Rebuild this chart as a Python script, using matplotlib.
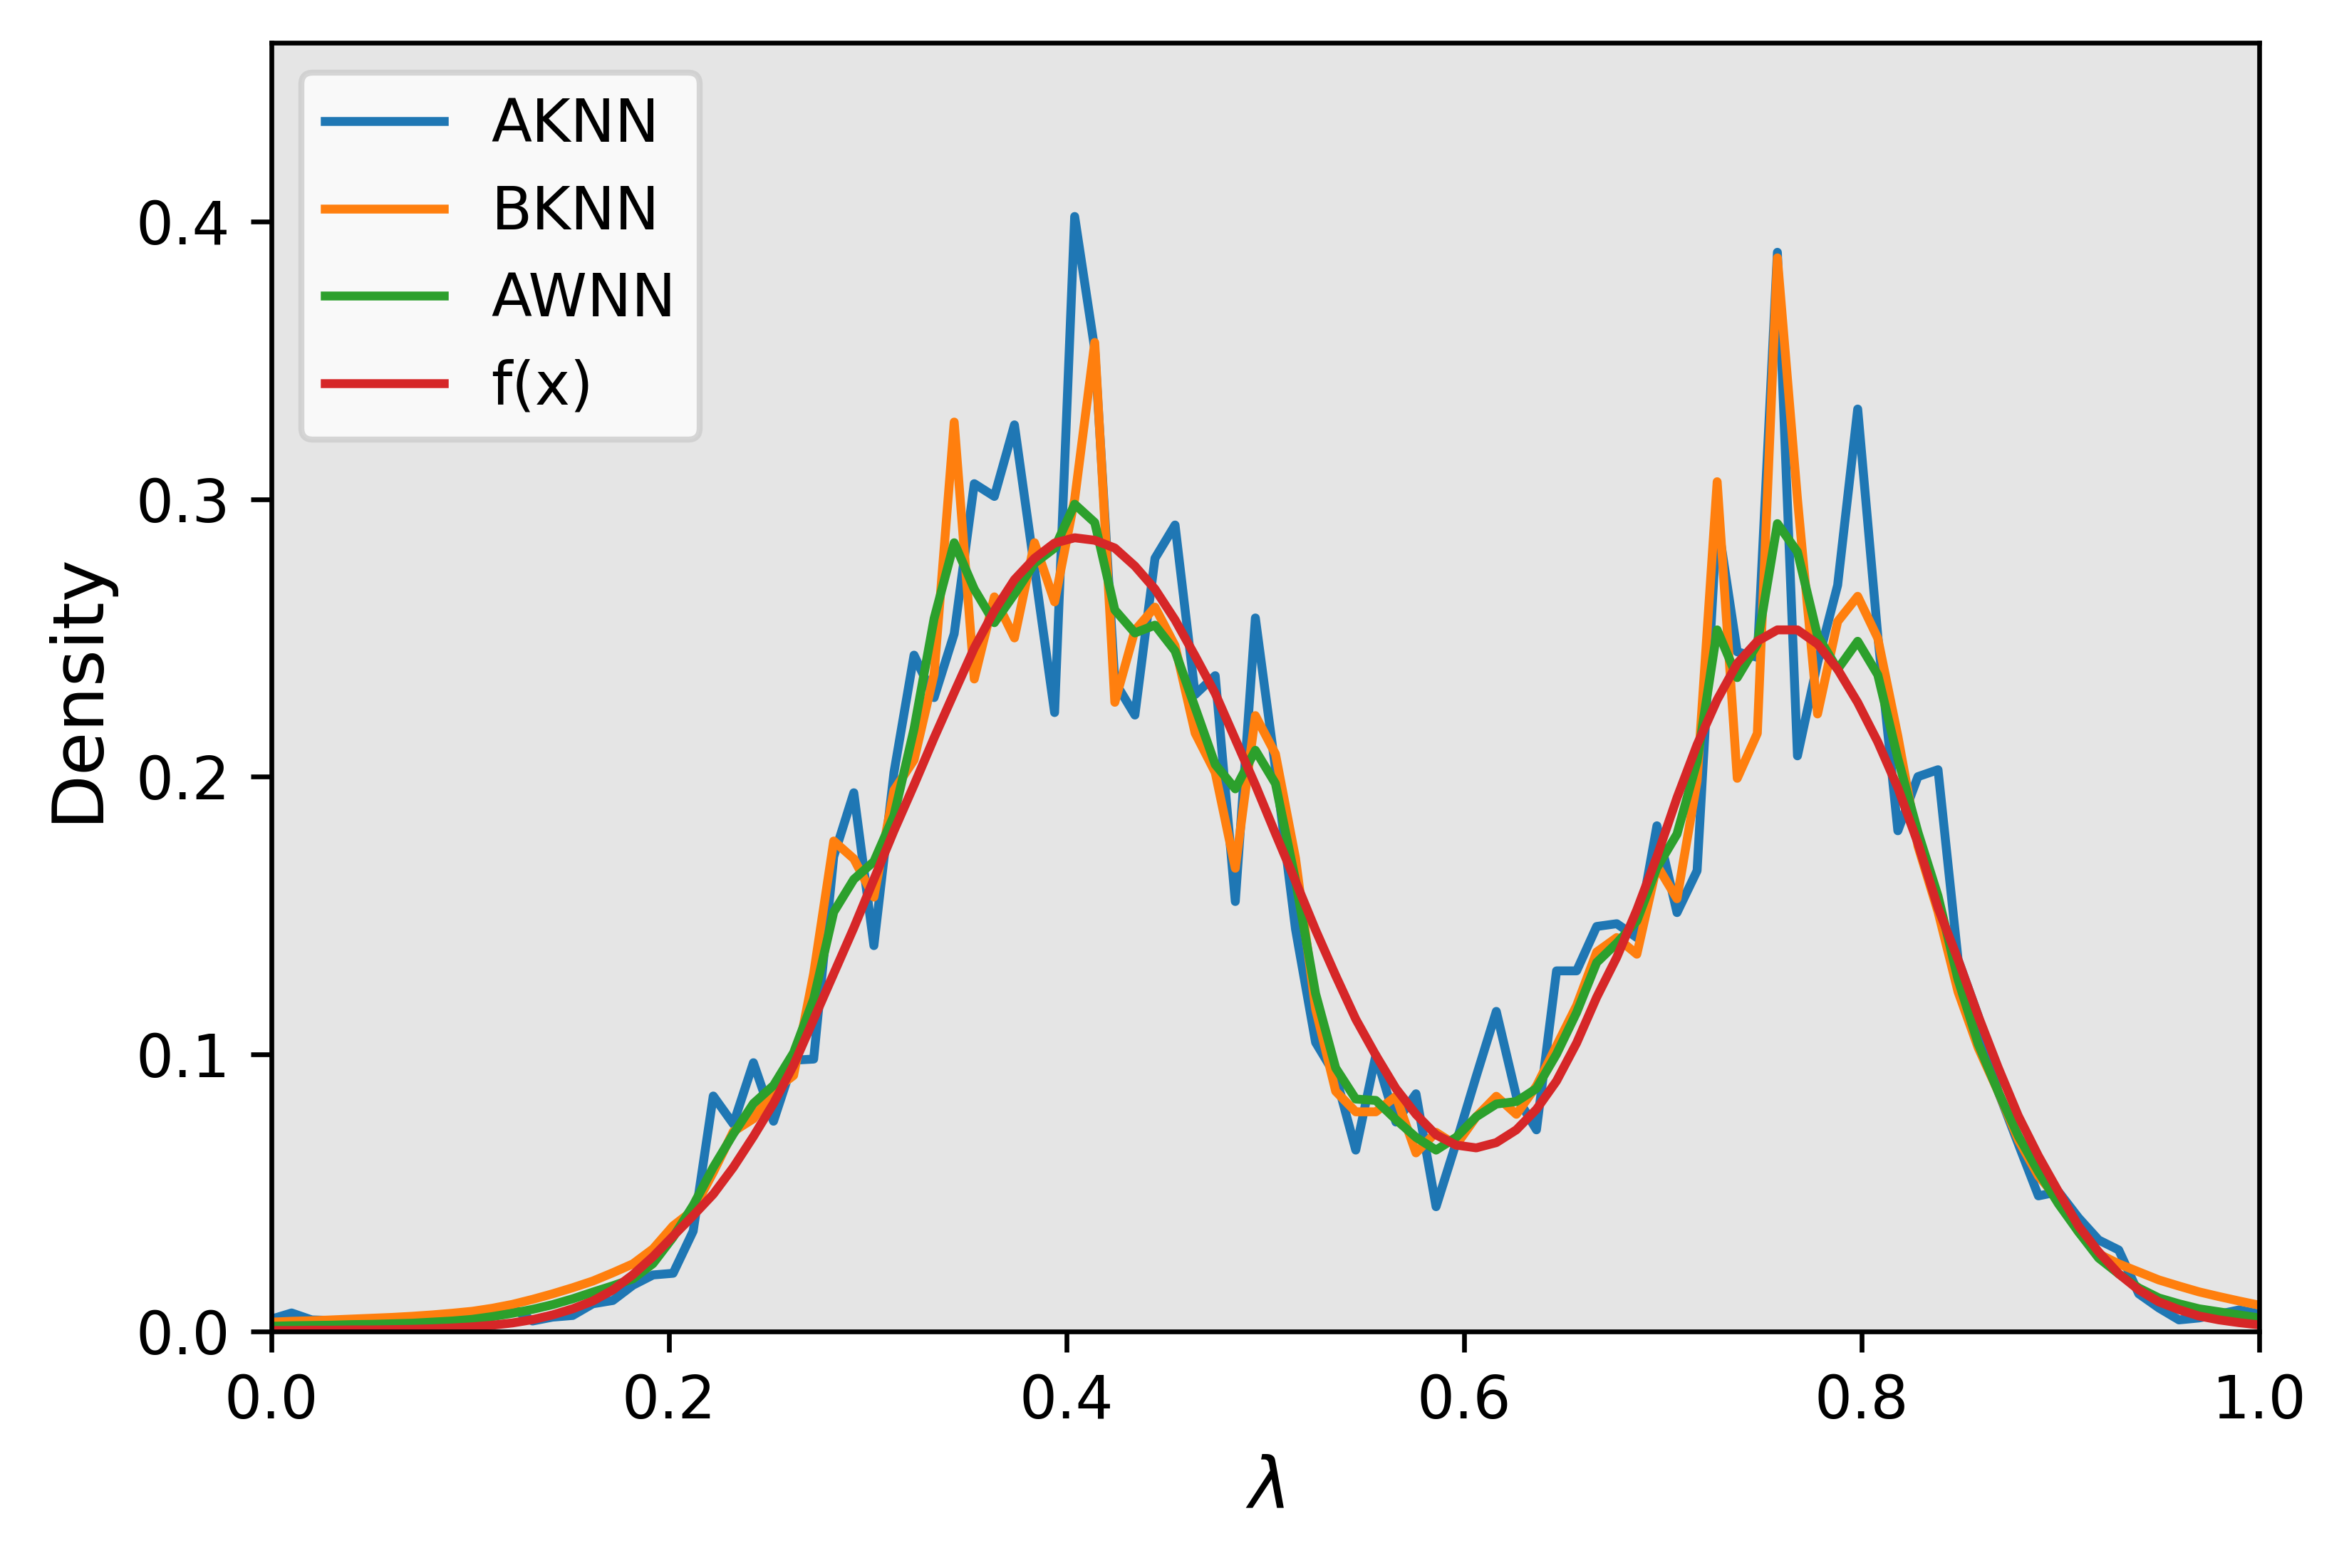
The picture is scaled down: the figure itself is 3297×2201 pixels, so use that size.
import numpy as np
import matplotlib
matplotlib.use("Agg")
import matplotlib.pyplot as plt

# grid of lambda values (100 points on [0, 1])
lam = np.linspace(0.0, 1.0, 100)

aknn = [
    0.0045, 0.0067, 0.0042, 0.0040, 0.0038, 0.0040, 0.0041, 0.0043, 0.0045, 0.0050,
    0.0058, 0.0066, 0.0085, 0.0038, 0.0052, 0.0058, 0.0100, 0.0112, 0.0167, 0.0204,
    0.0210, 0.0362, 0.0849, 0.0748, 0.0969, 0.0758, 0.0978, 0.0982, 0.1712, 0.1942,
    0.1391, 0.2015, 0.2438, 0.2285, 0.2515, 0.3056, 0.3010, 0.3268, 0.2750, 0.2231,
    0.4019, 0.3540, 0.2342, 0.2222, 0.2787, 0.2907, 0.2296, 0.2364, 0.1550, 0.2572,
    0.2030, 0.1450, 0.1042, 0.0922, 0.0654, 0.0996, 0.0755, 0.0857, 0.0450, 0.0680,
    0.0920, 0.1154, 0.0848, 0.0727, 0.1300, 0.1300, 0.1460, 0.1470, 0.1420, 0.1823,
    0.1510, 0.1661, 0.2930, 0.2450, 0.2430, 0.3890, 0.2075, 0.2410, 0.2690, 0.3325,
    0.2508, 0.1805, 0.2000, 0.2025, 0.1340, 0.1138, 0.0864, 0.0676, 0.0489, 0.0504,
    0.0410, 0.0330, 0.0294, 0.0136, 0.0085, 0.0042, 0.0049, 0.0063, 0.0078, 0.0063,
]

bknn = [
    0.0034, 0.0037, 0.0039, 0.0042, 0.0045, 0.0048, 0.0051, 0.0055, 0.0060, 0.0066,
    0.0073, 0.0084, 0.0098, 0.0116, 0.0136, 0.0158, 0.0182, 0.0212, 0.0244, 0.0298,
    0.0381, 0.0437, 0.0574, 0.0721, 0.0767, 0.0868, 0.0923, 0.1290, 0.1768, 0.1704,
    0.1566, 0.1951, 0.2060, 0.2370, 0.3278, 0.2352, 0.2648, 0.2500, 0.2843, 0.2630,
    0.3000, 0.3565, 0.2268, 0.2527, 0.2611, 0.2472, 0.2157, 0.2015, 0.1670, 0.2220,
    0.2082, 0.1706, 0.1163, 0.0866, 0.0792, 0.0792, 0.0848, 0.0644, 0.0718, 0.0672,
    0.0774, 0.0848, 0.0783, 0.0885, 0.1030, 0.1175, 0.1368, 0.1420, 0.1360, 0.1680,
    0.1560, 0.1984, 0.3063, 0.1994, 0.2156, 0.3870, 0.3000, 0.2226, 0.2559, 0.2650,
    0.2499, 0.2146, 0.1750, 0.1513, 0.1224, 0.1023, 0.0864, 0.0691, 0.0561, 0.0474,
    0.0359, 0.0280, 0.0244, 0.0215, 0.0186, 0.0164, 0.0143, 0.0126, 0.0110, 0.0095,
]

awnn = [
    0.0019, 0.0021, 0.0022, 0.0023, 0.0025, 0.0026, 0.0028, 0.0030, 0.0034, 0.0038,
    0.0044, 0.0054, 0.0066, 0.0080, 0.0097, 0.0118, 0.0142, 0.0165, 0.0190, 0.0245,
    0.0340, 0.0455, 0.0592, 0.0712, 0.0822, 0.0887, 0.1005, 0.1198, 0.1512, 0.1630,
    0.1694, 0.1860, 0.2172, 0.2570, 0.2843, 0.2676, 0.2555, 0.2658, 0.2769, 0.2824,
    0.2982, 0.2916, 0.2601, 0.2518, 0.2546, 0.2453, 0.2249, 0.2044, 0.1956, 0.2095,
    0.1975, 0.1626, 0.1218, 0.0950, 0.0838, 0.0833, 0.0764, 0.0700, 0.0654, 0.0700,
    0.0774, 0.0820, 0.0829, 0.0876, 0.1000, 0.1150, 0.1330, 0.1400, 0.1480, 0.1672,
    0.1793, 0.2055, 0.2529, 0.2357, 0.2478, 0.2912, 0.2810, 0.2508, 0.2387, 0.2488,
    0.2367, 0.2065, 0.1800, 0.1570, 0.1268, 0.1037, 0.0864, 0.0705, 0.0576, 0.0460,
    0.0359, 0.0265, 0.0208, 0.0157, 0.0121, 0.0100, 0.0082, 0.0071, 0.0060, 0.0049,
]

fx = [
    0.0004, 0.0004, 0.0005, 0.0005, 0.0006, 0.0006, 0.0007, 0.0008, 0.0010, 0.0013,
    0.0017, 0.0023, 0.0031, 0.0043, 0.0060, 0.0082, 0.0110, 0.0150, 0.0205, 0.0270,
    0.0344, 0.0418, 0.0495, 0.0592, 0.0703, 0.0822, 0.0960, 0.1125, 0.1290, 0.1455,
    0.1630, 0.1805, 0.1970, 0.2140, 0.2303, 0.2464, 0.2598, 0.2710, 0.2787, 0.2842,
    0.2861, 0.2852, 0.2824, 0.2759, 0.2676, 0.2565, 0.2435, 0.2300, 0.2135, 0.1970,
    0.1795, 0.1623, 0.1447, 0.1283, 0.1126, 0.0996, 0.0876, 0.0783, 0.0709, 0.0672,
    0.0662, 0.0681, 0.0727, 0.0801, 0.0903, 0.1040, 0.1205, 0.1349, 0.1520, 0.1712,
    0.1924, 0.2115, 0.2277, 0.2408, 0.2488, 0.2529, 0.2529, 0.2478, 0.2387, 0.2267,
    0.2125, 0.1960, 0.1760, 0.1527, 0.1340, 0.1138, 0.0951, 0.0777, 0.0633, 0.0504,
    0.0380, 0.0287, 0.0208, 0.0150, 0.0107, 0.0079, 0.0056, 0.0042, 0.0032, 0.0024,
]

series_labels = ["AKNN", "BKNN", "AWNN", "f(x)"]
series_colors = ["#1f77b4", "#ff7f0e", "#2ca02c", "#d62728"]

plt.rcParams['font.family'] = ['DejaVu Sans']

DPI = 600
fig = plt.figure(figsize=(3297 / DPI, 2201 / DPI), dpi=DPI)
ax = fig.add_axes([0.1156, 0.1508, 0.9618 - 0.1156, 0.9727 - 0.1508])
ax.set_facecolor("#e5e5e5")

for vals, lab, col in zip([aknn, bknn, awnn, fx], series_labels, series_colors):
    ax.plot(lam, vals, color=col, lw=1.5, label=lab)

ax.set_xlim(0.0, 1.0)
ax.set_ylim(0.0, 0.4645)
ax.set_xticks([0.0, 0.2, 0.4, 0.6, 0.8, 1.0])
ax.set_yticks([0.0, 0.1, 0.2, 0.3, 0.4])
ax.tick_params(labelsize=10)

ax.set_xlabel(r"$\lambda$", fontsize=12)
ax.set_ylabel("Density", fontsize=12)

ax.legend(loc="upper left", fontsize=10)

fig.savefig("out.png", dpi=DPI)
